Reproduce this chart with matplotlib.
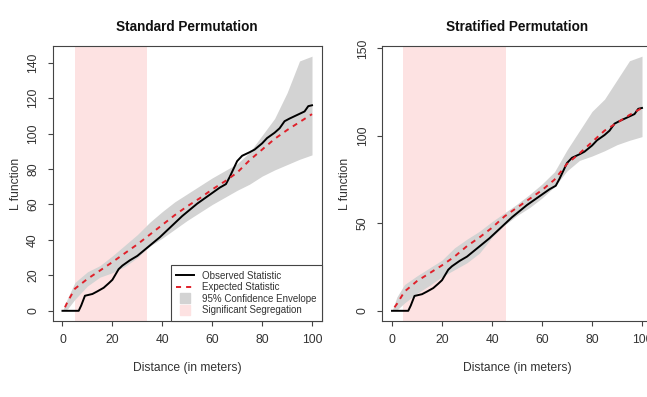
import numpy as np
import matplotlib
matplotlib.use("Agg")
import matplotlib.pyplot as plt
from matplotlib.lines import Line2D

plt.rcParams["font.family"] = ["Liberation Sans", "DejaVu Sans"]

# observed L function (same data in both panels)
obs_x = [0, 6.5, 7.5, 9, 12, 14, 16.5, 18.5, 20, 22.5, 24, 27, 30, 33, 36, 39, 42, 45,
         48, 51, 54, 57, 60, 63, 65.5, 67, 68.5, 70, 72, 75, 77, 80, 82, 85, 87, 89,
         91, 94, 97, 98.5, 100]
obs_y = [0, 0, 3, 8.5, 9.5, 11, 13, 15.5, 17.5, 23.5, 25.5, 28.5, 31, 34.5, 38, 41.5,
         45.5, 49.5, 53.5, 57, 60.5, 63.5, 66.5, 69.5, 71.5, 75.5, 80, 84.5, 87.5, 89.5,
         91, 94.5, 97.5, 100.5, 103, 107, 108.5, 110.5, 112.5, 115.5, 116]

# expected statistic
exp_x = [1, 2, 5, 10, 15, 20, 25, 30, 35, 40, 45, 50, 55, 60, 65, 70, 75, 80, 85, 90, 95, 100]
exp_std = [2, 5, 12.5, 18, 22.7, 27.5, 32.5, 37.5, 43, 48.5, 54, 59, 63.5, 68.5, 73,
           78, 85, 91, 97, 102, 106.5, 111]
exp_strat = [2, 4, 11, 17, 21.5, 26, 31, 37, 42, 47.5, 54, 59, 64, 69, 75, 84,
             90, 96.5, 103, 107.5, 112, 116]

# 95% confidence envelopes
env_x = [0, 2, 5, 10, 15, 20, 25, 30, 35, 40, 45, 50, 55, 60, 65, 70, 75, 80, 85, 90, 95, 100]
std_hi = [0, 7, 16, 22, 25.5, 31, 37, 43, 50, 56, 61.5, 66, 70.5, 75, 79, 83, 89.5,
          99, 108.5, 123, 141, 143.7]
std_lo = [0, 1, 6.5, 14, 19, 21.5, 25, 30, 36.5, 41, 46, 51, 55.5, 60, 64, 68,
          71.5, 76, 79.5, 82.5, 85.5, 88]
strat_hi = [0, 8, 15, 20, 24.5, 29, 36, 41, 45.5, 51, 56, 61, 66.5, 72.5, 79.5, 92,
            103, 114, 121, 132, 143, 145.6]
strat_lo = [0, 0.5, 4.5, 10, 14.5, 19.5, 23.5, 27.5, 33, 42, 49, 54.5, 59, 64.5, 71, 80,
            86, 88.5, 91.5, 95, 97.5, 99.6]

# significant segregation ranges
seg_std = (5, 34)
seg_strat = (4.5, 45.5)

pink = "#fde2e2"
gray = "#d3d3d3"
red = "#e0202a"
axcol = "#444444"
txtcol = "#333333"

fig = plt.figure(figsize=(6.47, 3.97), dpi=100)
ax_l = fig.add_axes([52.5 / 647, 1 - 321 / 397, 269.5 / 647, 275 / 397])
ax_r = fig.add_axes([382 / 647, 1 - 321 / 397, 270 / 647, 275 / 397])


def draw_panel(ax, title, hi, lo, expected, seg, yticks):
    ax.axvspan(seg[0], seg[1], color=pink, lw=0, zorder=0)
    ax.fill_between(env_x, lo, hi, color=gray, lw=0, zorder=1)
    ax.plot(obs_x, obs_y, color="black", lw=1.4, zorder=3)
    ax.plot(exp_x, expected, color=red, lw=1.4, dashes=(2.6, 2.6), zorder=4)

    ymax = max(hi)
    ax.set_xlim(-4, 104)
    ax.set_ylim(-0.04 * ymax, ymax * 1.04)
    ax.set_xticks([0, 20, 40, 60, 80, 100])
    ax.set_yticks(yticks)
    for s in ax.spines.values():
        s.set_color(axcol)
        s.set_linewidth(0.8)
    ax.tick_params(direction="out", length=3.6, width=0.8, color=axcol,
                   labelsize=8.7, labelcolor=txtcol)
    ax.tick_params(axis="x", pad=6)
    ax.tick_params(axis="y", pad=6, labelrotation=90)
    for lab in ax.get_yticklabels():
        lab.set_va("center")
    ax.set_title(title, fontsize=9.8, fontweight="bold", pad=11, color="#111111")
    ax.set_xlabel("Distance (in meters)", fontsize=8.7, labelpad=11, color=txtcol)
    ax.set_ylabel("L function", fontsize=8.7, labelpad=4, color=txtcol)


draw_panel(ax_l, "Standard Permutation", std_hi, std_lo, exp_std, seg_std,
           [0, 20, 40, 60, 80, 100, 120, 140])
draw_panel(ax_r, "Stratified Permutation", strat_hi, strat_lo, exp_strat, seg_strat,
           [0, 50, 100, 150])

handles = [
    Line2D([], [], color="black", lw=1.4),
    Line2D([], [], color=red, lw=1.4, dashes=(2.6, 2.6)),
    Line2D([], [], ls="none", marker="s", markersize=7, color=gray),
    Line2D([], [], ls="none", marker="s", markersize=7, color=pink),
]
labels = ["Observed Statistic", "Expected Statistic", "95% Confidence Envelope",
          "Significant Segregation"]
leg = ax_l.legend(handles, labels, loc="lower right", borderaxespad=0, fontsize=7,
                  frameon=True, fancybox=False, edgecolor=axcol, framealpha=1,
                  borderpad=0.6, handlelength=1.8, handletextpad=0.8, labelspacing=0.15)
leg.get_frame().set_linewidth(0.8)
for t in leg.get_texts():
    t.set_color(txtcol)

fig.savefig("out.png", dpi=100)
